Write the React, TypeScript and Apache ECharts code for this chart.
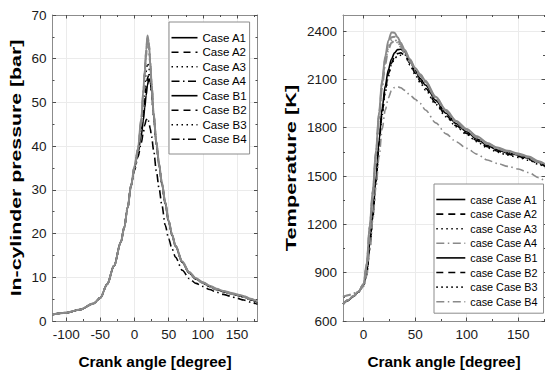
import React, { useEffect, useRef } from "react";
import * as echarts from "echarts";

// ---------------- Data: in-cylinder pressure (left) ----------------
const pressureAngle = [-120, -100, -80, -60, -50, -40, -30, -20, -15, -10, -5, 0, 5, 10, 13, 15, 17, 19, 21, 23, 25, 28, 32, 36, 40, 45, 50, 55, 60, 70, 80, 90, 100, 110, 120, 130, 140, 150, 160, 170, 180];
const pressureA1 = [1.5, 1.9, 2.6, 4.0, 5.3, 8.4, 12.6, 18.0, 21.4, 26.0, 31.0, 35.0, 38.5, 42.5, 46.0, 48.8, 51.6, 54.0, 55.4, 54.8, 52.5, 47.0, 40.5, 35.6, 31.4, 26.9, 22.7, 19.6, 17.1, 13.4, 11.0, 9.6, 8.7, 7.9, 7.2, 6.7, 6.3, 5.9, 5.5, 4.9, 4.2];
const pressureA2 = [1.5, 1.9, 2.6, 4.0, 5.3, 8.4, 12.6, 18.0, 21.4, 26.0, 31.0, 35.0, 38.7, 43.5, 47.5, 50.5, 53.5, 55.6, 56.3, 55.2, 52.8, 47.2, 40.6, 35.7, 31.5, 27.0, 22.8, 19.7, 17.2, 13.5, 11.0, 9.6, 8.7, 7.9, 7.2, 6.7, 6.3, 5.9, 5.5, 4.9, 4.2];
const pressureA3 = [1.5, 1.9, 2.6, 4.0, 5.3, 8.4, 12.6, 18.0, 21.4, 26.0, 31.0, 35.2, 39.0, 45.0, 50.0, 53.5, 57.0, 59.0, 58.2, 55.6, 52.2, 46.8, 40.5, 35.6, 31.4, 26.9, 22.7, 19.6, 17.1, 13.4, 11.0, 9.6, 8.7, 7.9, 7.2, 6.7, 6.3, 5.9, 5.5, 4.9, 4.2];
const pressureA4 = [1.5, 1.9, 2.6, 4.0, 5.3, 8.4, 12.6, 18.0, 21.4, 26.0, 31.0, 34.5, 37.5, 40.8, 43.2, 44.8, 46.0, 46.4, 45.6, 44.0, 42.2, 39.0, 34.3, 30.3, 26.6, 21.9, 18.8, 16.5, 14.6, 11.6, 9.7, 8.6, 7.9, 7.2, 6.6, 6.1, 5.7, 5.2, 4.8, 4.3, 3.8];
const pressureB1 = [1.5, 1.9, 2.6, 4.0, 5.3, 8.4, 12.6, 18.0, 21.4, 26.0, 31.0, 35.5, 39.5, 46.5, 53.0, 57.5, 62.0, 65.3, 63.8, 59.5, 54.5, 47.5, 41.0, 36.0, 31.8, 27.2, 23.0, 19.8, 17.3, 13.6, 11.2, 9.8, 8.9, 8.1, 7.4, 6.9, 6.5, 6.1, 5.7, 5.1, 4.4];
const pressureB2 = [1.5, 1.9, 2.6, 4.0, 5.3, 8.4, 12.6, 18.0, 21.4, 26.0, 31.0, 35.3, 39.2, 46.0, 52.5, 57.0, 61.5, 64.8, 63.5, 59.3, 54.3, 47.4, 40.9, 35.9, 31.7, 27.1, 22.9, 19.7, 17.2, 13.5, 11.1, 9.7, 8.8, 8.0, 7.3, 6.8, 6.4, 6.0, 5.6, 5.0, 4.3];
const pressureB3 = [1.5, 1.9, 2.6, 4.0, 5.3, 8.4, 12.6, 18.0, 21.4, 26.0, 31.0, 35.2, 39.0, 45.5, 52.0, 56.5, 61.0, 64.2, 63.2, 59.0, 54.0, 47.2, 40.8, 35.8, 31.6, 27.0, 22.8, 19.7, 17.2, 13.5, 11.1, 9.7, 8.8, 8.0, 7.3, 6.8, 6.4, 6.0, 5.6, 5.0, 4.3];
const pressureB4 = [1.5, 1.9, 2.6, 4.0, 5.3, 8.4, 12.6, 18.0, 21.4, 26.0, 31.0, 35.0, 38.8, 45.0, 51.5, 56.0, 60.5, 63.6, 62.8, 58.7, 53.8, 47.0, 40.7, 35.7, 31.5, 26.9, 22.7, 19.6, 17.1, 13.4, 11.0, 9.6, 8.7, 7.9, 7.2, 6.7, 6.3, 5.9, 5.5, 4.9, 4.2];

// ---------------- Data: temperature (right) ----------------
const tempAngle = [-20, -15, -10, -5, 0, 3, 6, 9, 12, 15, 18, 21, 24, 27, 30, 33, 36, 40, 45, 50, 55, 60, 70, 80, 90, 100, 110, 120, 130, 140, 150, 160, 170, 180];
const tempA1 = [705, 728, 752, 780, 825, 900, 1080, 1270, 1480, 1720, 1920, 2060, 2160, 2225, 2265, 2285, 2287, 2270, 2215, 2155, 2105, 2065, 1970, 1890, 1825, 1775, 1730, 1690, 1662, 1644, 1630, 1610, 1585, 1548];
const tempA2 = [705, 728, 752, 780, 822, 890, 1065, 1255, 1465, 1700, 1895, 2035, 2135, 2200, 2240, 2260, 2265, 2250, 2200, 2140, 2090, 2045, 1955, 1875, 1812, 1765, 1720, 1682, 1655, 1636, 1622, 1603, 1578, 1542];
const tempA3 = [705, 728, 752, 780, 820, 885, 1055, 1245, 1455, 1690, 1880, 2020, 2120, 2190, 2230, 2246, 2250, 2252, 2190, 2130, 2080, 2035, 1945, 1868, 1806, 1758, 1713, 1676, 1648, 1630, 1616, 1598, 1572, 1536];
const tempA4 = [748, 760, 770, 782, 815, 880, 1040, 1230, 1430, 1620, 1790, 1910, 1985, 2030, 2050, 2055, 2048, 2032, 2003, 1977, 1950, 1910, 1830, 1762, 1712, 1672, 1636, 1600, 1578, 1560, 1544, 1522, 1490, 1440];
const tempB1 = [705, 730, 755, 783, 830, 960, 1200, 1420, 1660, 1900, 2100, 2245, 2340, 2392, 2390, 2362, 2328, 2283, 2225, 2172, 2132, 2092, 1992, 1910, 1842, 1792, 1747, 1706, 1677, 1657, 1641, 1621, 1592, 1555];
const tempB2 = [705, 730, 755, 783, 828, 950, 1185, 1405, 1645, 1880, 2080, 2225, 2318, 2362, 2365, 2345, 2315, 2274, 2218, 2166, 2126, 2086, 1987, 1905, 1838, 1788, 1743, 1702, 1673, 1653, 1637, 1617, 1588, 1551];
const tempB3 = [705, 730, 755, 783, 827, 945, 1175, 1395, 1635, 1870, 2068, 2210, 2300, 2342, 2348, 2333, 2306, 2268, 2213, 2162, 2122, 2082, 1984, 1902, 1835, 1785, 1740, 1700, 1671, 1651, 1635, 1615, 1586, 1549];
const tempB4 = [751, 760, 771, 785, 826, 940, 1165, 1385, 1625, 1860, 2055, 2195, 2285, 2328, 2340, 2328, 2302, 2265, 2210, 2160, 2120, 2080, 1982, 1900, 1833, 1783, 1738, 1698, 1669, 1649, 1633, 1613, 1584, 1547];

// ---------------- Ticks / labels ----------------
const pressureXTicks = [-100, -50, 0, 50, 100, 150];
const pressureXMinor = [-75, -25, 25, 75, 125, 175];
const pressureYTicks = [0, 10, 20, 30, 40, 50, 60, 70];
const pressureYMinor = [5, 15, 25, 35, 45, 55, 65];
const tempXTicks = [0, 50, 100, 150];
const tempXMinor = [25, 75, 125, 175];
const tempYTicks = [600, 900, 1200, 1500, 1800, 2100, 2400];
const tempYMinor = [750, 1050, 1350, 1650, 1950, 2250];

const pressureNames = ["Case A1", "Case A2", "Case A3", "Case A4", "Case B1", "Case B2", "Case B3", "Case B4"];
const tempNames = ["case Case A1", "case Case A2", "case Case A3", "case Case A4", "case Case B1", "case Case B2", "case Case B3", "case Case B4"];

const FONT = "'Liberation Sans', Arial, sans-serif";
const BLACK = "#000000";
const GRAY = "#8a8a8a";
const FRAME = "#8c8c8c";
const GRID = "#ebebeb";
const TICK = "#4d4d4d";

const DASHED = [7, 5];
const DOTTED = [1.5, 3.5];
const DASHDOT = [8, 3.5, 1.5, 3.5];

function boxAxes(grid: number, isX: boolean, min: number, max: number, majors: number[], minors: number[], name: string) {
  const posMain = isX ? "bottom" : "left";
  const posOpp = isX ? "top" : "right";
  const base = { type: "value", gridIndex: grid, min, max, scale: false };
  const main: any = {
    ...base,
    position: posMain,
    axisLine: { show: true, onZero: false, lineStyle: { color: FRAME, width: 1 } },
    axisTick: { show: true, inside: true, length: 3.5, customValues: majors, lineStyle: { color: TICK, width: 1 } },
    axisLabel: {
      show: true,
      customValues: majors,
      fontSize: 13.5,
      color: "#1a1a1a",
      fontFamily: FONT,
      margin: 6,
      formatter: (v: number) => String(v),
    },
    splitLine: { show: true, lineStyle: { color: GRID, width: 1 } },
    minorTick: { show: false },
  };
  if (name) {
    main.name = name;
    main.nameLocation = "middle";
    main.nameGap = 33;
    main.nameMoveOverlap = false;
    main.nameTextStyle = { fontSize: 15.4, fontWeight: "bold", color: "#000", fontFamily: FONT };
  }
  const opp: any = {
    ...base,
    position: posOpp,
    axisLine: { show: true, onZero: false, lineStyle: { color: FRAME, width: 1 } },
    axisTick: { show: true, inside: true, length: 3.5, customValues: majors, lineStyle: { color: TICK, width: 1 } },
    axisLabel: { show: false },
    splitLine: { show: false },
  };
  const mainMinor: any = {
    ...base,
    position: posMain,
    axisLine: { show: false, onZero: false },
    axisTick: { show: true, inside: true, length: 2, customValues: minors, lineStyle: { color: TICK, width: 1 } },
    axisLabel: { show: false },
    splitLine: { show: false },
  };
  const oppMinor: any = { ...mainMinor, position: posOpp };
  return [main, opp, mainMinor, oppMinor];
}

function mkSeries(name: string, xs: number[], ys: number[], color: string, width: number, dash: any, axisIndex: number) {
  return {
    type: "line",
    name,
    data: xs.map((x, i) => [x, ys[i]]),
    xAxisIndex: axisIndex,
    yAxisIndex: axisIndex,
    symbol: "none",
    showSymbol: false,
    smooth: 0.3,
    smoothMonotone: "x",
    clip: true,
    silent: true,
    lineStyle: { color, width, type: dash },
    itemStyle: { color },
    emphasis: { disabled: true },
  };
}

export default function App() {
  const ref = useRef<HTMLDivElement>(null);
  useEffect(() => {
    if (!ref.current) return;
    const chart = echarts.init(ref.current, null, { renderer: "svg" });

    const xAxes = [
      ...boxAxes(0, true, -120, 180, pressureXTicks, pressureXMinor, "Crank angle [degree]"),
      ...boxAxes(1, true, -20, 176, tempXTicks, tempXMinor, "Crank angle [degree]"),
    ];
    const yAxes = [
      ...boxAxes(0, false, 0, 70, pressureYTicks, pressureYMinor, ""),
      ...boxAxes(1, false, 600, 2500, tempYTicks, tempYMinor, ""),
    ];

    const series = [
      mkSeries(pressureNames[0], pressureAngle, pressureA1, BLACK, 1.6, "solid", 0),
      mkSeries(pressureNames[1], pressureAngle, pressureA2, BLACK, 1.6, DASHED, 0),
      mkSeries(pressureNames[2], pressureAngle, pressureA3, BLACK, 1.6, DOTTED, 0),
      mkSeries(pressureNames[3], pressureAngle, pressureA4, BLACK, 1.6, DASHDOT, 0),
      mkSeries(pressureNames[4], pressureAngle, pressureB1, GRAY, 1.9, "solid", 0),
      mkSeries(pressureNames[5], pressureAngle, pressureB2, GRAY, 1.9, DASHED, 0),
      mkSeries(pressureNames[6], pressureAngle, pressureB3, GRAY, 1.9, DOTTED, 0),
      mkSeries(pressureNames[7], pressureAngle, pressureB4, GRAY, 1.9, DASHDOT, 0),
      mkSeries(tempNames[0], tempAngle, tempA1, BLACK, 1.6, "solid", 4),
      mkSeries(tempNames[1], tempAngle, tempA2, BLACK, 1.6, DASHED, 4),
      mkSeries(tempNames[2], tempAngle, tempA3, BLACK, 1.6, DOTTED, 4),
      mkSeries(tempNames[3], tempAngle, tempA4, GRAY, 1.6, DASHDOT, 4),
      mkSeries(tempNames[4], tempAngle, tempB1, GRAY, 1.9, "solid", 4),
      mkSeries(tempNames[5], tempAngle, tempB2, GRAY, 1.9, DASHED, 4),
      mkSeries(tempNames[6], tempAngle, tempB3, GRAY, 1.9, DOTTED, 4),
      mkSeries(tempNames[7], tempAngle, tempB4, GRAY, 1.9, DASHDOT, 4),
    ];

    const legendBase = {
      show: true,
      orient: "vertical",
      selectedMode: false,
      borderColor: FRAME,
      borderWidth: 1,
      borderRadius: 0,
      backgroundColor: "#ffffff",
      itemStyle: { opacity: 0 },
      z: 10,
    };

    const tempLegendColors = [BLACK, BLACK, BLACK, GRAY, BLACK, BLACK, BLACK, GRAY];

    chart.setOption({
      animation: false,
      backgroundColor: "#ffffff",
      textStyle: { fontFamily: FONT },
      grid: [
        { left: 52.5, top: 15, width: 205, height: 306, containLabel: false, outerBoundsMode: "none", show: false },
        { left: 343, top: 15, width: 202, height: 306, containLabel: false, outerBoundsMode: "none", show: false },
      ],
      xAxis: xAxes,
      yAxis: yAxes,
      legend: [
        {
          ...legendBase,
          left: 169,
          top: 22,
          padding: [9.7, 3, 8.8, 1.7],
          itemWidth: 26,
          itemHeight: 12,
          itemGap: 2.5,
          textStyle: { fontSize: 11.5, color: "#000", fontFamily: FONT, lineHeight: 12 },
          data: pressureNames.map((n) => ({ name: n, lineStyle: { color: BLACK, width: 1.6 } })),
        },
        {
          ...legendBase,
          left: 434,
          top: 184,
          padding: [9.5, 6, 5.5, 1.5],
          itemWidth: 29,
          itemHeight: 12,
          itemGap: 2.6,
          textStyle: { fontSize: 10.8, color: "#000", fontFamily: FONT, lineHeight: 12 },
          data: tempNames.map((n, i) => ({ name: n, lineStyle: { color: tempLegendColors[i], width: 1.6 } })),
        },
      ],
      graphic: [
        {
          type: "text",
          x: 15.8,
          y: 168,
          rotation: Math.PI / 2,
          scaleX: 1.42,
          silent: true,
          style: {
            text: "In-cylinder pressure [bar]",
            fontSize: 15,
            fontWeight: "bold",
            fontFamily: FONT,
            fill: "#000",
            align: "center",
            verticalAlign: "middle",
            textAlign: "center",
            textVerticalAlign: "middle",
          },
        },
        {
          type: "text",
          x: 290.3,
          y: 168,
          rotation: Math.PI / 2,
          scaleX: 1.45,
          silent: true,
          style: {
            text: "Temperature [K]",
            fontSize: 15,
            fontWeight: "bold",
            fontFamily: FONT,
            fill: "#000",
            align: "center",
            verticalAlign: "middle",
            textAlign: "center",
            textVerticalAlign: "middle",
          },
        },
      ],
      series,
    });

    return () => {
      chart.dispose();
    };
  }, []);

  return (
    <div
      ref={ref}
      style={{ position: "absolute", left: 0, top: 0, width: 545, height: 373, background: "#fff" }}
    />
  );
}
